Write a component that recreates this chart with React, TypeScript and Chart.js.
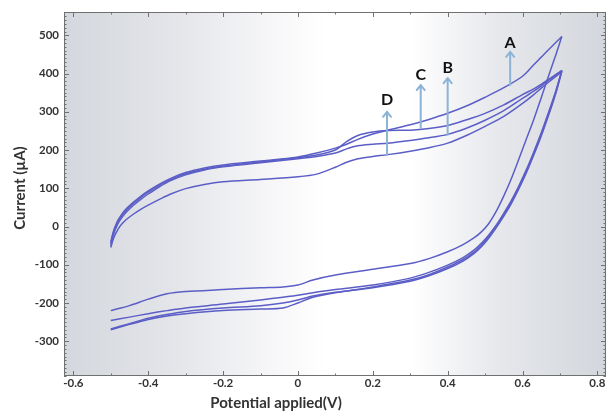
import React, { useEffect, useRef } from 'react';
import { Chart, registerables } from 'chart.js';

Chart.register(...registerables);

// Axis settings
const xMin = -0.625;
const xMax = 0.823;
const yMin = -391;
const yMax = 561;
const xTicks = [-0.6, -0.4, -0.2, 0, 0.2, 0.4, 0.6, 0.8];
const yTicks = [-300, -200, -100, 0, 100, 200, 300, 400, 500];
const xTitle = 'Potential applied(V)';
const yTitle = 'Current (µA)';

// Potentials of the forward (anodic) and reverse (cathodic) sweeps, V
const anodicV = [-0.5, -0.495, -0.49, -0.485, -0.48, -0.47, -0.46, -0.44, -0.42, -0.4, -0.37, -0.34, -0.3, -0.25, -0.2, -0.1, 0, 0.05, 0.1, 0.13, 0.16, 0.2, 0.24, 0.3, 0.35, 0.4, 0.45, 0.5, 0.55, 0.6, 0.63, 0.65, 0.67, 0.705];
const cathodicV = [0.705, 0.69, 0.67, 0.65, 0.63, 0.61, 0.59, 0.57, 0.55, 0.53, 0.51, 0.49, 0.47, 0.44, 0.4, 0.35, 0.3, 0.2, 0.1, 0.04, 0, -0.04, -0.1, -0.2, -0.3, -0.35, -0.4, -0.45, -0.5];

// Currents, µA
const anodicA = [-40, -20, -4, 8, 18, 33, 45, 63, 79, 93, 111, 126, 141, 153, 161, 171, 182, 192, 205, 215, 228, 242, 252, 266, 280, 296, 315, 338, 363, 393, 423, 443, 463, 497];
const cathodicA = [497, 452, 395, 337, 280, 228, 176, 125, 80, 40, 8, -14, -30, -48, -66, -84, -97, -112, -127, -140, -153, -158, -160, -165, -170, -176, -190, -207, -220];

const anodicB = [-50, -29, -13, -1, 9, 24, 36, 55, 71, 85, 104, 120, 135, 148, 156, 167, 177, 183, 192, 203, 211, 215, 218, 225, 232, 241, 257, 278, 303, 335, 354, 368, 383, 408];
const cathodicB = [408, 355, 295, 240, 190, 144, 102, 64, 31, 1, -26, -49, -67, -87, -106, -126, -140, -158, -173, -185, -200, -213, -216, -220, -228, -234, -243, -256, -270];

const anodicC = [-45, -24, -8, 4, 14, 29, 41, 60, 76, 90, 108, 123, 138, 150, 158, 169, 180, 187, 200, 222, 238, 247, 251, 252, 256, 264, 279, 296, 318, 345, 360, 372, 385, 408];
const cathodicC = [408, 358, 300, 245, 195, 148, 106, 68, 35, 4, -22, -44, -62, -82, -101, -120, -135, -153, -165, -173, -180, -185, -192, -203, -213, -220, -228, -237, -246];

const anodicD = [-55, -38, -25, -15, -6, 7, 17, 32, 45, 56, 71, 85, 99, 110, 117, 123, 130, 137, 155, 168, 177, 183, 188, 197, 206, 218, 238, 262, 288, 322, 345, 362, 378, 405];
const cathodicD = [406, 352, 292, 237, 187, 140, 98, 60, 27, -3, -30, -53, -71, -91, -110, -129, -143, -160, -172, -182, -192, -200, -207, -213, -222, -230, -240, -254, -268];

// Annotation arrows
const arrowLabels = ['A', 'B', 'C', 'D'];
const arrowV = [0.567, 0.4, 0.328, 0.238];
const arrowFrom = [370, 240, 257, 187];
const arrowTo = [457, 388, 370, 300];
const labelI = [481, 414, 396, 331];

const LINE = '#5b5ec6';
const TEXT = '#333333';
const FONT = 'Lato, "Open Sans", sans-serif';

function toPoints(v: number[], i: number[]) {
  return v.map((x, k) => ({ x, y: i[k] }));
}

const sweeps = [
  [anodicV, anodicA], [cathodicV, cathodicA],
  [anodicV, anodicB], [cathodicV, cathodicB],
  [anodicV, anodicC], [cathodicV, cathodicC],
  [anodicV, anodicD], [cathodicV, cathodicD],
];

const decor = {
  id: 'decor',
  beforeDraw(chart: any) {
    const { ctx, chartArea: a } = chart;
    const g = ctx.createLinearGradient(a.left, 0, a.right, 0);
    g.addColorStop(0, '#d4d7dd');
    g.addColorStop(0.2, '#e3e5e9');
    g.addColorStop(0.4, '#f8f8fa');
    g.addColorStop(0.48, '#ffffff');
    g.addColorStop(0.64, '#ffffff');
    g.addColorStop(0.8, '#e6e8ec');
    g.addColorStop(1, '#d3d6dc');
    ctx.save();
    ctx.fillStyle = g;
    ctx.fillRect(a.left, a.top, a.right - a.left, a.bottom - a.top);
    ctx.restore();
  },
  afterDraw(chart: any) {
    const { ctx, chartArea: a, scales } = chart;
    const xs = scales.x;
    const ys = scales.y;
    ctx.save();
    // frame
    ctx.strokeStyle = '#707070';
    ctx.lineWidth = 1;
    ctx.strokeRect(a.left + 0.5, a.top + 0.5, a.right - a.left - 1, a.bottom - a.top - 1);
    // y ticks (inward, both sides)
    ctx.beginPath();
    for (let v = Math.ceil(yMin / 10) * 10; v <= yMax; v += 10) {
      const p = Math.round(ys.getPixelForValue(v)) + 0.5;
      const len = v % 100 === 0 ? 5 : 2.5;
      ctx.moveTo(a.left, p); ctx.lineTo(a.left + len, p);
      ctx.moveTo(a.right, p); ctx.lineTo(a.right - len, p);
    }
    // x ticks (inward, top and bottom)
    for (let k = Math.ceil(xMin * 10); k <= Math.floor(xMax * 10); k++) {
      const p = Math.round(xs.getPixelForValue(k / 10)) + 0.5;
      const len = k % 2 === 0 ? 5 : 2.5;
      ctx.moveTo(p, a.bottom); ctx.lineTo(p, a.bottom - len);
      ctx.moveTo(p, a.top); ctx.lineTo(p, a.top + len);
    }
    ctx.stroke();

    // arrows
    ctx.strokeStyle = '#8cb3d6';
    ctx.lineWidth = 2;
    ctx.lineCap = 'round';
    ctx.lineJoin = 'round';
    arrowLabels.forEach((lab, i) => {
      const x = xs.getPixelForValue(arrowV[i]);
      const y1 = ys.getPixelForValue(arrowFrom[i]);
      const y2 = ys.getPixelForValue(arrowTo[i]);
      ctx.beginPath();
      ctx.moveTo(x, y1); ctx.lineTo(x, y2);
      ctx.moveTo(x - 4, y2 + 5); ctx.lineTo(x, y2); ctx.lineTo(x + 4, y2 + 5);
      ctx.stroke();
    });
    ctx.fillStyle = '#111111';
    ctx.font = `bold 16px ${FONT}`;
    ctx.textAlign = 'center';
    ctx.textBaseline = 'middle';
    arrowLabels.forEach((lab, i) => {
      ctx.fillText(lab, xs.getPixelForValue(arrowV[i]), ys.getPixelForValue(labelI[i]));
    });

    // axis titles
    ctx.fillStyle = TEXT;
    ctx.font = `bold 15px ${FONT}`;
    ctx.fillText(xTitle, 276, 403);
    ctx.translate(20, 188);
    ctx.rotate(-Math.PI / 2);
    ctx.fillText(yTitle, 0, 0);
    ctx.restore();
  },
};

export default function App() {
  const ref = useRef<HTMLCanvasElement | null>(null);
  useEffect(() => {
    if (!ref.current) return;
    const chart = new Chart(ref.current, {
      type: 'scatter',
      data: {
        datasets: sweeps.map(([v, i]) => ({
          data: toPoints(v, i),
          showLine: true,
          borderColor: LINE,
          borderWidth: 1.5,
          pointRadius: 0,
          tension: 0.3,
          fill: false,
        })),
      },
      options: {
        animation: false,
        responsive: true,
        maintainAspectRatio: false,
        layout: { padding: { top: 12, right: 1, left: 0, bottom: 0 } },
        plugins: { legend: { display: false }, tooltip: { enabled: false } },
        scales: {
          x: {
            type: 'linear',
            min: xMin,
            max: xMax,
            border: { display: false },
            grid: { display: false, drawTicks: false },
            afterBuildTicks: (ax: any) => { ax.ticks = xTicks.map((value) => ({ value })); },
            afterFit: (s: any) => { s.height = 36; s.paddingLeft = 0; s.paddingRight = 0; },
            ticks: {
              padding: 0,
              autoSkip: false,
              maxRotation: 0,
              color: TEXT,
              font: { family: FONT, weight: 'bold', size: 11.5 },
              callback: (v: any) => String(v),
            },
          },
          y: {
            type: 'linear',
            min: yMin,
            max: yMax,
            border: { display: false },
            grid: { display: false, drawTicks: false },
            afterBuildTicks: (ax: any) => { ax.ticks = yTicks.map((value) => ({ value })); },
            afterFit: (s: any) => { s.width = 64; s.paddingTop = 0; s.paddingBottom = 0; },
            ticks: {
              padding: 5,
              autoSkip: false,
              color: TEXT,
              font: { family: FONT, weight: 'bold', size: 11.5 },
              callback: (v: any) => String(v),
            },
          },
        },
      },
      plugins: [decor],
    });
    return () => chart.destroy();
  }, []);
  return (
    <div style={{ position: 'fixed', left: 0, top: 0, width: 607, height: 412, background: '#ffffff' }}>
      <canvas ref={ref} />
    </div>
  );
}
